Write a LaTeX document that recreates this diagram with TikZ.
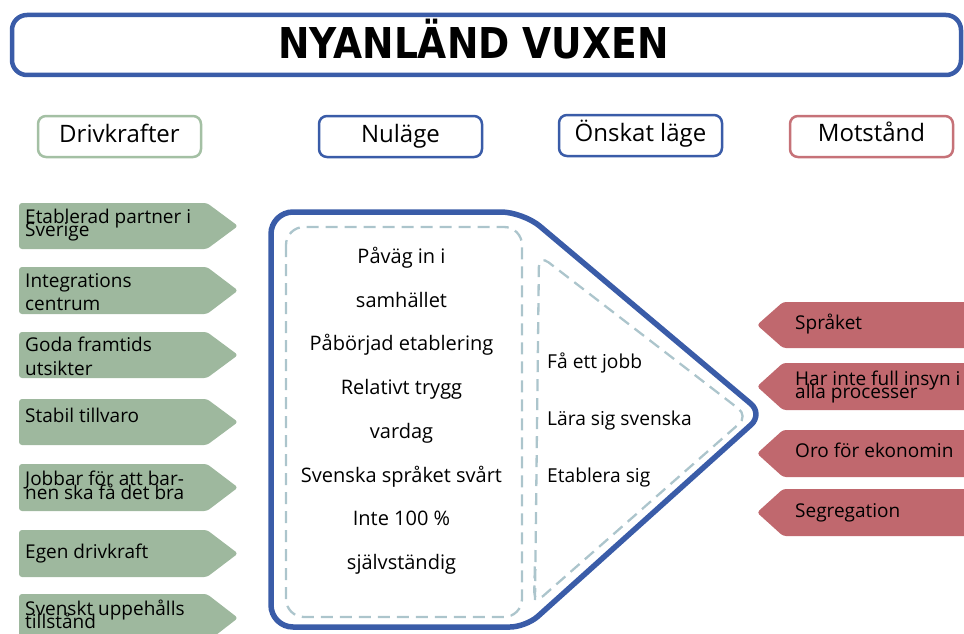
\documentclass[tikz,border=0pt]{standalone}
\usepackage{fontspec}
\usepackage{graphicx}
\setmainfont{Open Sans}
\newfontfamily\titlefont{DejaVu Sans}
\definecolor{frameblue}{RGB}{58,92,168}
\definecolor{drivegreen}{RGB}{158,184,158}
\definecolor{drivegreenline}{RGB}{164,192,164}
\definecolor{resistred}{RGB}{192,104,110}
\definecolor{resistredline}{RGB}{198,114,120}
\definecolor{dashgrey}{RGB}{172,197,204}
\tikzset{
  headbox/.style={draw, line width=2.5pt, rounded corners=8pt, fill=white},
  headtext/.style={font=\fontsize{24}{24}\selectfont, anchor=base, inner sep=0pt},
  arrowtext/.style={font=\fontsize{19}{19}\selectfont, anchor=base west, inner sep=0pt},
  nowtext/.style={font=\fontsize{20}{20}\selectfont, anchor=base, inner sep=0pt},
  wishtext/.style={font=\fontsize{19.2}{19.2}\selectfont, anchor=base west, inner sep=0pt},
  dashline/.style={draw=dashgrey, line width=2.3pt, dash pattern=on 12pt off 7pt},
}
% pentagon arrows: #1 top edge, #2 bottom edge
\newcommand{\drivearrow}[2]{%
  \fill[drivegreen, rounded corners=3pt] (19,#1) -- (207,#1) -- (238,{(#1+#2)/2}) -- (207,#2) -- (19,#2) -- cycle;}
\newcommand{\resistarrow}[2]{%
  \fill[resistred, rounded corners=3pt] (975,#1) -- (783,#1) -- (757,{(#1+#2)/2}) -- (783,#2) -- (975,#2) -- cycle;}
\begin{document}
\begin{tikzpicture}[x=1pt, y=-1pt]
\useasboundingbox (0,0) rectangle (964,634);
\clip (0,0) rectangle (964,634);

% title banner
\draw[frameblue, line width=4.5pt, rounded corners=15pt] (12,15) rectangle (961,75);
\node[anchor=base, inner sep=0pt] (title) at (473.5,59)
  {\scalebox{0.885}[1]{\titlefont\bfseries\fontsize{42.5}{42.5}\selectfont NYANLÄND VUXEN}};

% column headings
\draw[headbox, draw=drivegreenline] (38,116) rectangle (201,157);
\draw[headbox, draw=frameblue] (319,116) rectangle (482,157);
\draw[headbox, draw=frameblue] (559,115) rectangle (722,156);
\draw[headbox, draw=resistredline] (790,116) rectangle (953,157);
\node[headtext] (hdrive) at (119.5,142.5) {Drivkrafter};
\node[headtext] (hnow) at (400.5,142.5) {Nuläge};
\node[headtext] (hwish) at (640.5,141.5) {Önskat läge};
\node[headtext] (hresist) at (871.5,141.5) {Motstånd};

% driving forces
\drivearrow{203}{249}
\drivearrow{267}{314}
\drivearrow{332}{378}
\drivearrow{399}{445}
\drivearrow{464}{511}
\drivearrow{530}{577}
\drivearrow{594}{642}
\node[arrowtext] (d1a) at (25,223) {Etablerad partner i};
\node[arrowtext] (d1b) at (25,236) {Sverige};
\node[arrowtext] (d2a) at (25,287) {Integrations};
\node[arrowtext] (d2b) at (25,310) {centrum};
\node[arrowtext] (d3a) at (25,351) {Goda framtids};
\node[arrowtext] (d3b) at (25,375) {utsikter};
\node[arrowtext] (d4) at (25,422) {Stabil tillvaro};
\node[arrowtext] (d5a) at (25,485) {Jobbar för att bar-};
\node[arrowtext] (d5b) at (25,499) {nen ska få det bra};
\node[arrowtext] (d6) at (25,558) {Egen drivkraft};
\node[arrowtext] (d7a) at (25,615) {Svenskt uppehålls};
\node[arrowtext] (d7b) at (25,628) {tillstånd};

% resisting forces
\resistarrow{302}{348}
\resistarrow{363}{410}
\resistarrow{430}{477}
\resistarrow{489}{536}
\node[arrowtext] (r1) at (795,329) {Språket};
\node[arrowtext] (r2a) at (795,385) {Har inte full insyn i};
\node[arrowtext] (r2b) at (795,398) {alla processer};
\node[arrowtext] (r3) at (795,457) {Oro för ekonomin};
\node[arrowtext] (r4) at (795,517) {Segregation};

% current state / desired state frame
\draw[frameblue, line width=5.5pt]
  (271,420) [rounded corners=22pt] -- (271,212) -- (523,212)
  [rounded corners=16pt] -- (763,414) -- (526,627)
  [rounded corners=22pt] -- (271,627) -- cycle;
\draw[dashline, rounded corners=18pt] (286,227) rectangle (522,617);
\draw[dashline, rounded corners=12pt] (535,600) -- (539,255) -- (748,416) -- (534,604) -- (535,560);

% current state
\node[nowtext] (n1) at (401.5,263) {Påväg in i};
\node[nowtext] (n2) at (401.5,307) {samhället};
\node[nowtext] (n3) at (401.5,350) {Påbörjad etablering};
\node[nowtext] (n4) at (401.5,394) {Relativt trygg};
\node[nowtext] (n5) at (401.5,438) {vardag};
\node[nowtext] (n6) at (401.5,482) {Svenska språket svårt};
\node[nowtext] (n7) at (401.5,525) {Inte 100 \%};
\node[nowtext] (n8) at (401.5,569) {självständig};

% desired state
\node[wishtext] (w1) at (547,368) {Få ett jobb};
\node[wishtext] (w2) at (547,425) {Lära sig svenska};
\node[wishtext] (w3) at (547,482) {Etablera sig};
\end{tikzpicture}
\end{document}
